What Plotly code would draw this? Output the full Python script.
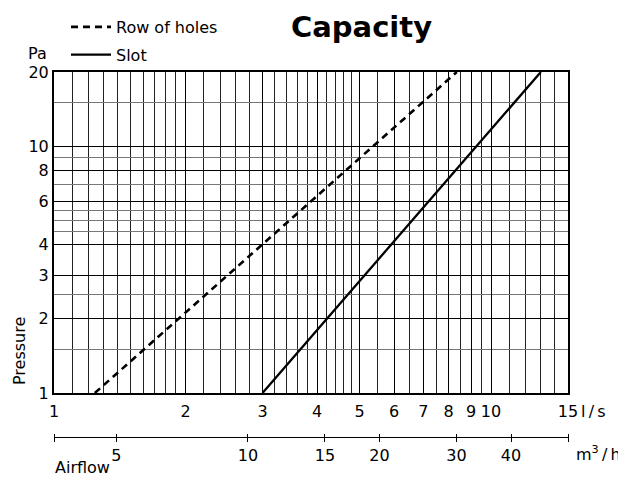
import math
import plotly.graph_objects as go

# ---- data ----
holes_flow = [1.24, 8.35]       # l/s
holes_pressure = [1, 20]        # Pa
slot_flow = [3.0, 13.0]         # l/s
slot_pressure = [1, 20]         # Pa

x_major = [1, 2, 3, 4, 5, 6, 7, 8, 9, 10, 15]
x_major_text = ["1", "2", "3", "4", "5", "6", "7", "8", "9", "10", "15"]
x_minor = [1.1, 1.2, 1.3, 1.4, 1.5, 1.6, 1.7, 1.8, 1.9,
           2.2, 2.4, 2.6, 2.8, 3.2, 3.4, 3.6, 3.8,
           4.2, 4.4, 4.6, 4.8, 5.5, 6.5, 7.5, 8.5, 9.5,
           11, 12, 13, 14]
y_major = [1, 2, 3, 4, 6, 8, 10, 20]
y_minor = [1.5, 2.5, 4.5, 5, 5.5, 7, 9, 15]
m3h_labeled = [5, 10, 15, 20, 30, 40]
m3h_ends = [3.6, 54]

FONT = "DejaVu Sans"
OFF = 8                       # page body margin in the browser
W, H = 626 - OFF, 479 - OFF
# reference pixel layout: plot x 54..568, paper y 72..445
L = 54 - OFF
T = 72 - OFF
R = W - (568 - OFF)
B = H - (445 - OFF)
PW, PH = W - L - R, H - T - B


def px(xref_pix):
    return (xref_pix - OFF - L) / PW


def py(yref_pix):
    return (H - B - (yref_pix - OFF)) / PH


fig = go.Figure()
fig.add_trace(go.Scatter(x=holes_flow, y=holes_pressure, mode="lines",
                         name="Row of holes", legendgroup="a",
                         line=dict(color="black", width=2.6, dash="7px,5px")))
fig.add_trace(go.Scatter(x=slot_flow, y=slot_pressure, mode="lines",
                         name="Slot", legendgroup="b",
                         line=dict(color="black", width=2.3)))
# invisible traces to activate the secondary airflow axes
fig.add_trace(go.Scatter(x=m3h_ends, y=[1, 1], xaxis="x2", mode="lines",
                         line=dict(width=0), showlegend=False, hoverinfo="skip"))
fig.add_trace(go.Scatter(x=m3h_ends, y=[1, 1], xaxis="x3", mode="lines",
                         line=dict(width=0), showlegend=False, hoverinfo="skip"))

ydom0 = py(393)
m3h_range = [math.log10(m3h_ends[0]), math.log10(m3h_ends[1])]

fig.update_layout(
    width=W, height=H,
    margin=dict(l=L, r=R, t=T, b=B, autoexpand=False),
    paper_bgcolor="white", plot_bgcolor="white",
    font=dict(family=FONT, size=16, color="black"),
    showlegend=True,
    legend=dict(x=px(66), y=py(10), xanchor="left", yanchor="top",
                font=dict(family=FONT, size=16, color="black"),
                bgcolor="rgba(0,0,0,0)", tracegroupgap=4,
                itemwidth=40),
    xaxis=dict(type="log", range=[0, math.log10(15)],
               tickmode="array", tickvals=x_major, ticktext=x_major_text,
               showgrid=True, gridcolor="black", gridwidth=1.3,
               minor=dict(tickmode="array", tickvals=x_minor, showgrid=True,
                          gridcolor="#222", gridwidth=1, ticks=""),
               showline=True, linecolor="black", linewidth=2, mirror=True,
               ticks="", zeroline=False, ticklabelstandoff=3,
               tickfont=dict(size=16), anchor="y"),
    yaxis=dict(type="log", range=[0, math.log10(20)], domain=[ydom0, 1],
               tickmode="array", tickvals=y_major,
               ticktext=[str(v) for v in y_major],
               showgrid=True, gridcolor="black", gridwidth=1.3,
               minor=dict(tickmode="array", tickvals=y_minor, showgrid=True,
                          gridcolor="#777", gridwidth=1.2, ticks=""),
               showline=True, linecolor="black", linewidth=2, mirror=True,
               ticks="", zeroline=False, tickfont=dict(size=16)),
    # airflow axis in m3/h: ticks crossing a thin line
    xaxis2=dict(type="log", range=m3h_range,
                overlaying="x", anchor="free", position=py(433), side="bottom",
                tickmode="array", tickvals=m3h_labeled,
                ticktext=[str(v) for v in m3h_labeled],
                ticks="outside", ticklen=8, tickwidth=1, tickcolor="black",
                minor=dict(tickmode="array", tickvals=m3h_ends,
                           ticks="outside", ticklen=8, tickwidth=1,
                           tickcolor="black", showgrid=False),
                showline=False, showgrid=False, zeroline=False,
                tickfont=dict(size=16)),
    xaxis3=dict(type="log", range=m3h_range,
                overlaying="x", anchor="free", position=py(437), side="bottom",
                showticklabels=False, ticks="",
                showline=True, linecolor="black", linewidth=1,
                showgrid=False, zeroline=False),
)

ann = [
    dict(text="<b>Capacity</b>", x=px(361), y=py(27), xanchor="center",
         yanchor="middle", font=dict(size=29)),
    dict(text="Pa", x=px(49), y=py(54), xanchor="right", yanchor="middle",
         font=dict(size=16)),
    dict(text="Pressure", x=px(19), y=py(351), xanchor="center",
         yanchor="middle", textangle=-90, font=dict(size=16)),
    dict(text="l\u2009/\u2009s", x=px(579), y=py(411), xanchor="left",
         yanchor="middle", font=dict(size=16)),
    dict(text="m<sup>3</sup>\u2009/\u2009h", x=px(574), y=py(453),
         xanchor="left", yanchor="middle", font=dict(size=16)),
    dict(text="Airflow", x=px(53), y=py(467), xanchor="left",
         yanchor="middle", font=dict(size=16)),
]
for a in ann:
    a.update(xref="paper", yref="paper", showarrow=False)
    fig.add_annotation(**a)

fig.write_html("out.html")
